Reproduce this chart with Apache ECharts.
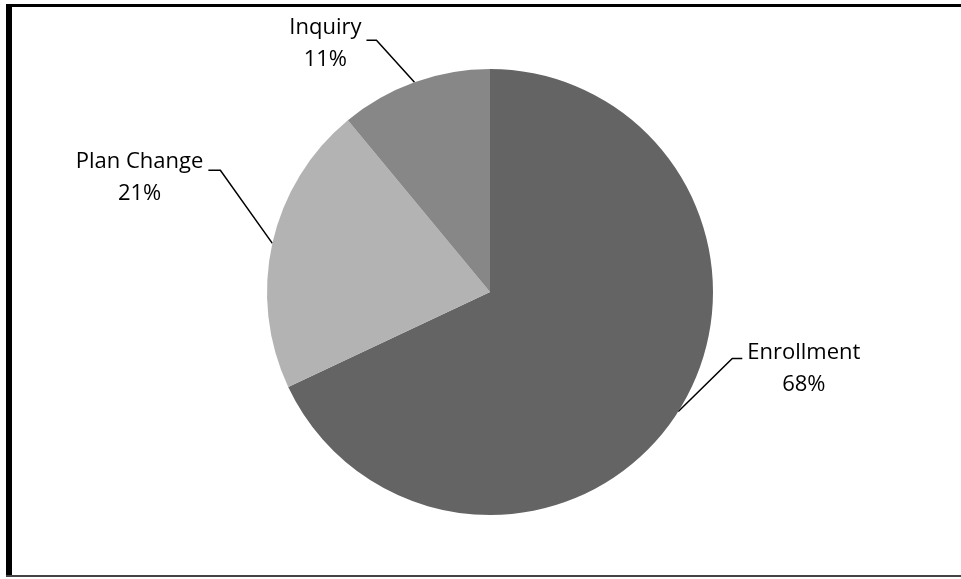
<!DOCTYPE html>
<html><head><meta charset="utf-8">
<script src="https://cdn.jsdelivr.net/npm/echarts@6/dist/echarts.min.js"></script>
<style>html,body{margin:0;padding:0;background:#fff}#c{width:961px;height:579px}</style>
</head><body><div id="c"></div>
<script>
const categories = ['Enrollment', 'Plan Change', 'Inquiry'];
const values = [68, 21, 11];
const colors = ['#646464', '#b3b3b3', '#878787'];
// leader-line geometry per label: diagonal (dx,dy), horizontal length h, label side, vertical offset of label block
const leader = [
  { dx: 54, dy: -53, h: 10, side: 1, vy: 10 },
  { dx: -52, dy: -73, h: -12, side: -1, vy: 7 },
  { dx: -38, dy: -42, h: -10, side: -1, vy: 4 }
];
const chart = echarts.init(document.getElementById('c'));
chart.setOption({
  animation: false,
  graphic: [
    { type: 'rect', shape: { x: 6, y: 4, width: 6, height: 573 }, style: { fill: '#000' } },
    { type: 'rect', shape: { x: 6, y: 4, width: 955, height: 3 }, style: { fill: '#000' } },
    { type: 'rect', shape: { x: 6, y: 575, width: 955, height: 2 }, style: { fill: '#444' } }
  ],
  series: [{
    type: 'pie',
    center: [490, 292],
    radius: [0, 223],
    startAngle: 90,
    clockwise: true,
    data: categories.map((n, i) => ({ name: n, value: values[i], itemStyle: { color: colors[i] } })),
    label: {
      show: true,
      formatter: '{b}\n{d}%',
      fontFamily: 'Open Sans',
      fontSize: 22,
      lineHeight: 32,
      color: '#000',
      align: 'center'
    },
    labelLine: { show: true, lineStyle: { color: '#000', width: 1.5 } },
    labelLayout: function (p) {
      const e = p.labelLinePoints[0];
      const o = leader[p.dataIndex];
      const corner = [e[0] + o.dx, e[1] + o.dy];
      const end = [corner[0] + o.h, corner[1]];
      const w = p.labelRect.width;
      return {
        x: end[0] + o.side * (5 + w / 2),
        y: end[1] + o.vy,
        align: 'center',
        verticalAlign: 'middle',
        labelLinePoints: [e, corner, end]
      };
    },
    emphasis: { disabled: true }
  }]
});
</script></body></html>
